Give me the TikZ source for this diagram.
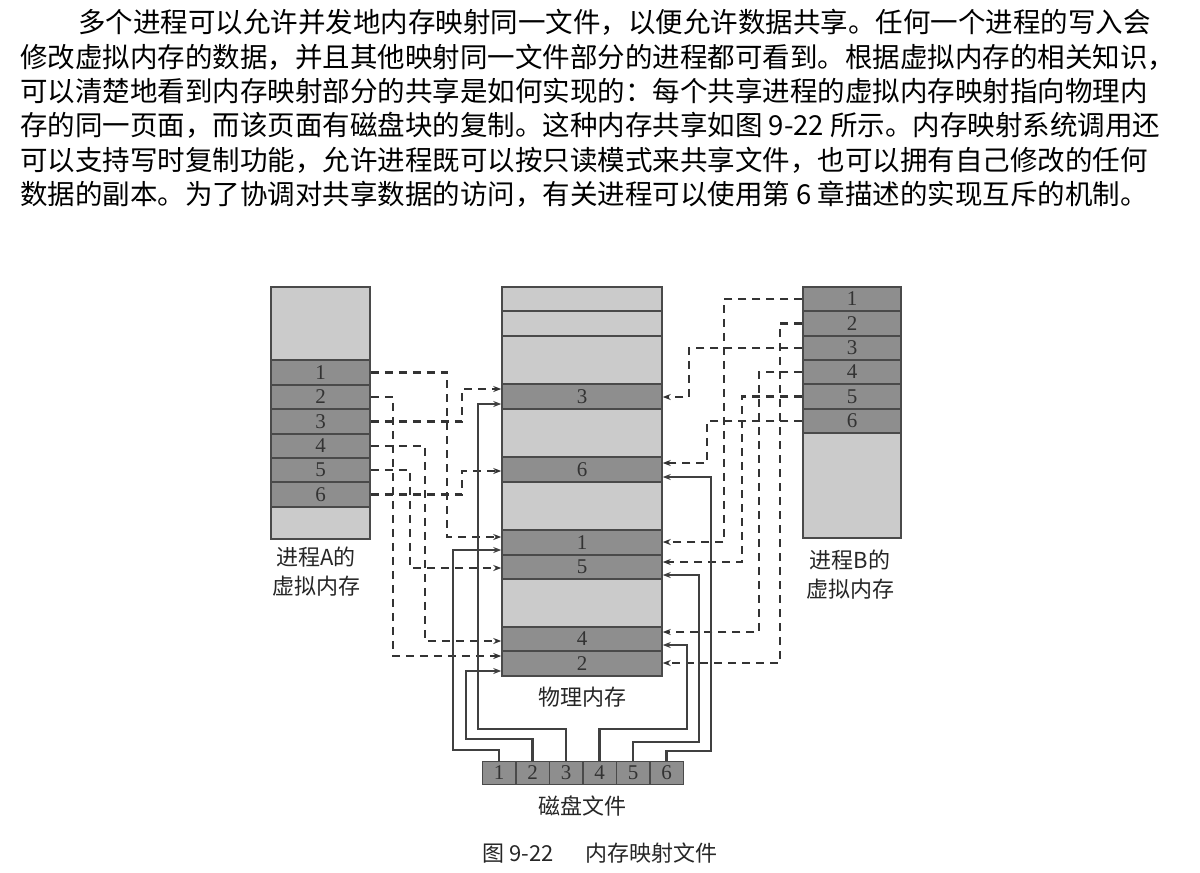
\documentclass[tikz,border=0pt]{standalone}
\usepackage{fontspec}
\setmainfont{Noto Sans CJK SC}
\newfontfamily\numf{Liberation Serif}
\usetikzlibrary{arrows.meta}
\definecolor{lightg}{HTML}{CBCBCB}
\definecolor{darkg}{HTML}{8E8E8E}
\definecolor{edgeg}{HTML}{4A4A4A}
\begin{document}
\begin{tikzpicture}[x=1pt,y=-1pt,
  pg/.style={draw=edgeg,line width=1.5pt,fill=darkg,inner sep=0pt,font=\numf\fontsize{21}{21}\selectfont,text=black!80},
  lt/.style={draw=edgeg,line width=1.5pt,fill=lightg,inner sep=0pt},
  dsh/.style={draw=black!80,line width=2.4pt,dash pattern=on 8pt off 6pt,-{Stealth[length=8pt,width=6pt]}},
  sol/.style={draw=black!75,line width=2.2pt,-{Stealth[length=8pt,width=6pt]}},
  lbl/.style={font=\fontsize{22}{29}\selectfont,align=center,text=black!85},
  para/.style={anchor=west,inner sep=0pt,font=\fontsize{27.5}{30}\selectfont}]
\useasboundingbox (0,0) rectangle (1200,873);
% paragraph
\node[para] (t1) at (78,22) {多个进程可以允许并发地内存映射同一文件，以便允许数据共享。任何一个进程的写入会};
\node[para] (t2) at (20,57) {修改虚拟内存的数据，并且其他映射同一文件部分的进程都可看到。根据虚拟内存的相关知识，};
\node[para] (t3) at (20,91) {可以清楚地看到内存映射部分的共享是如何实现的：每个共享进程的虚拟内存映射指向物理内};
\node[para] (t4) at (20,125) {存的同一页面，而该页面有磁盘块的复制。这种内存共享如图 9-22 所示。内存映射系统调用还};
\node[para] (t5) at (20,160) {可以支持写时复制功能，允许进程既可以按只读模式来共享文件，也可以拥有自己修改的任何};
\node[para] (t6) at (20,194) {数据的副本。为了协调对共享数据的访问，有关进程可以使用第 6 章描述的实现互斥的机制。};
% process A
\node[lt,minimum width=99pt,minimum height=73pt] (atop) at (320.5,323.5) {};
\foreach \n/\y in {1/372.5,2/397,3/421.5,4/446,5/470,6/494.5}
  \node[pg,minimum width=99pt,minimum height=24.4pt] (a\n) at (320.5,\y) {\n};
\node[lt,minimum width=99pt,minimum height=32pt] (abot) at (320.5,523) {};
\node[lbl] (la) at (316,572) {进程A的\\虚拟内存};
% process B
\foreach \n/\y in {1/299,2/323.5,3/348,4/372,5/396.5,6/421}
  \node[pg,minimum width=98pt,minimum height=24.4pt] (b\n) at (852,\y) {\n};
\node[lbl] (lb) at (850,575) {进程B的\\虚拟内存};
\node[lt,minimum width=98pt,minimum height=105pt] (bbot) at (852,485.5) {};
% physical memory
\node[lt,minimum width=160pt,minimum height=24pt] (q1) at (582,299) {};
\node[lt,minimum width=160pt,minimum height=25pt] (q2) at (582,323.5) {};
\node[lt,minimum width=160pt,minimum height=48pt] (q3) at (582,360) {};
\node[lt,minimum width=160pt,minimum height=48pt] (q4) at (582,433) {};
\node[lt,minimum width=160pt,minimum height=48pt] (q5) at (582,506) {};
\node[lt,minimum width=160pt,minimum height=48pt] (q6) at (582,603) {};
\node[pg,minimum width=160pt,minimum height=25pt] (p3) at (582,396.5) {3};
\node[pg,minimum width=160pt,minimum height=25pt] (p6) at (582,469.5) {6};
\node[pg,minimum width=160pt,minimum height=25pt] (p1) at (582,542.5) {1};
\node[pg,minimum width=160pt,minimum height=24pt] (p5) at (582,567) {5};
\node[pg,minimum width=160pt,minimum height=24pt] (p4) at (582,639) {4};
\node[pg,minimum width=160pt,minimum height=25pt] (p2) at (582,663.5) {2};
\node[lbl] (lp) at (582,697) {物理内存};
% disk
\foreach \n/\x in {1/499,2/532.5,3/566,4/599.5,5/633,6/666.5}
  \node[pg,minimum width=33.5pt,minimum height=23pt] (d\n) at (\x,773) {\n};
\node[lbl] (ld) at (582,806) {磁盘文件};
\node[lbl] (cap) at (600,853) {图 9-22\quad\ \ 内存映射文件};
% A dashed
\draw[dsh] (a1.east) -| (447,537) -- (p1.west |- 0,537);
\draw[dsh] (a2.east) -| (393,656) -- (p2.west |- 0,656);
\draw[dsh] (a3.east) -| (462,389) -- (p3.west |- 0,389);
\draw[dsh] (a4.east) -| (425,641) -- (p4.west |- 0,641);
\draw[dsh] (a5.east) -| (410,568) -- (p5.west |- 0,568);
\draw[dsh] (a6.east) -| (462,471) -- (p6.west |- 0,471);
% B dashed
\draw[dsh] (b1.west) -| (724,542) -- (p1.east |- 0,542);
\draw[dsh] (b2.west) -| (780,663) -- (p2.east |- 0,663);
\draw[dsh] (b3.west) -| (689,397) -- (p3.east |- 0,397);
\draw[dsh] (b4.west) -| (759,632) -- (p4.east |- 0,632);
\draw[dsh] (b5.west) -| (742,562) -- (p5.east |- 0,562);
\draw[dsh] (b6.west) -| (707,463) -- (p6.east |- 0,463);
% solid from disk
\draw[sol] (d1.north) |- (453,750) |- (p1.west |- 0,550);
\draw[sol] (d2.north) |- (466,739) |- (p2.west |- 0,671);
\draw[sol] (d3.north) |- (478,729) |- (p3.west |- 0,404);
\draw[sol] (d4.north) |- (687,729) |- (p4.east |- 0,645);
\draw[sol] (d5.north) |- (699,742) |- (p5.east |- 0,575);
\draw[sol] (d6.north) |- (711,751) |- (p6.east |- 0,477);
\end{tikzpicture}
\end{document}
